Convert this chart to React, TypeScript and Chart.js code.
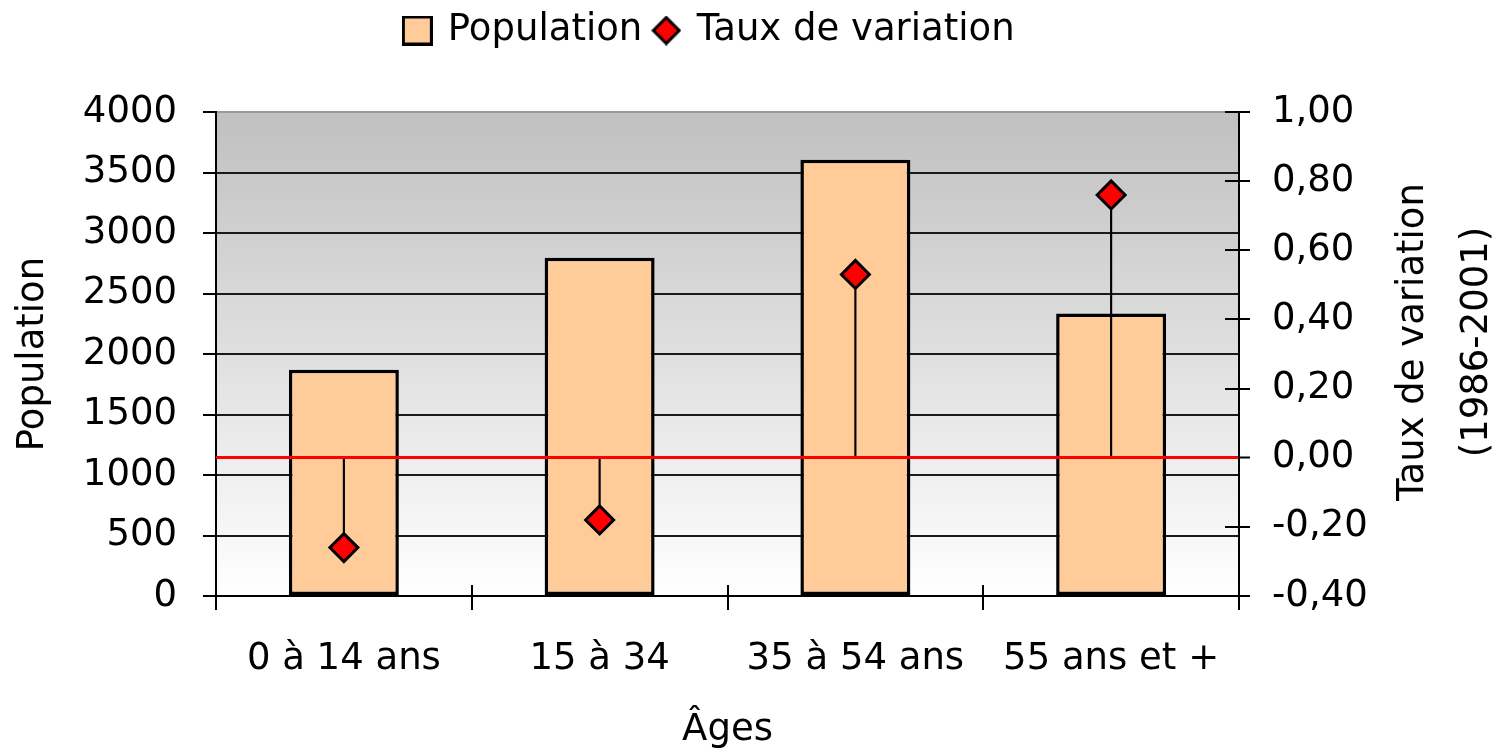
import React, { useEffect, useRef } from 'react';
import { Chart, registerables } from 'chart.js';

Chart.register(...registerables);

// ---- data ----
const categories = ['0 à 14 ans', '15 à 34', '35 à 54 ans', '55 ans et +'];
const population = [1870, 2795, 3605, 2335];
const tauxVariation = [-0.26, -0.18, 0.53, 0.76];
const populationAxis = { min: 0, max: 4000, step: 500 };
const tauxAxis = { min: -0.4, max: 1.0, step: 0.2 };
const legendLabels = ['Population', 'Taux de variation'];
const xTitle = 'Âges';
const leftTitle = 'Population';
const rightTitleLines = ['Taux de variation', '(1986-2001)'];

const FAMILY = 'DejaVu Sans';
const FS = 37;

function makeSquareIcon(): HTMLCanvasElement {
  const c = document.createElement('canvas');
  c.width = 31;
  c.height = 30;
  const x = c.getContext('2d')!;
  x.fillStyle = '#ffcc99';
  x.fillRect(0, 0, 31, 30);
  x.lineWidth = 3;
  x.strokeStyle = '#000';
  x.strokeRect(1.5, 1.5, 28, 27);
  return c;
}

function makeDiamondIcon(): HTMLCanvasElement {
  const c = document.createElement('canvas');
  c.width = 30;
  c.height = 30;
  const x = c.getContext('2d')!;
  x.beginPath();
  x.moveTo(15, 2);
  x.lineTo(28, 15);
  x.lineTo(15, 28);
  x.lineTo(2, 15);
  x.closePath();
  x.fillStyle = '#ff0000';
  x.fill();
  x.lineWidth = 3;
  x.strokeStyle = '#000';
  x.stroke();
  return c;
}

const bgPlugin = {
  id: 'plotBg',
  beforeDraw(chart: any) {
    const { ctx, chartArea: a } = chart;
    const g = ctx.createLinearGradient(0, a.top, 0, a.bottom);
    g.addColorStop(0, '#c0c0c0');
    g.addColorStop(1, '#ffffff');
    ctx.save();
    ctx.fillStyle = g;
    ctx.fillRect(a.left, a.top, a.right - a.left, a.bottom - a.top);
    ctx.restore();
  },
};

// inner halves of the "cross" tick marks (x axis category boundaries, right axis ticks)
const innerTicksPlugin = {
  id: 'innerTicks',
  afterDatasetsDraw(chart: any) {
    const { ctx, chartArea: a, scales } = chart;
    const xs = scales.x;
    const y1 = scales.y1;
    ctx.save();
    ctx.strokeStyle = '#000';
    ctx.lineWidth = 2;
    ctx.beginPath();
    const n = xs.ticks.length;
    for (let i = 1; i < n; i++) {
      const px = Math.round((xs.getPixelForTick(i - 1) + xs.getPixelForTick(i)) / 2);
      ctx.moveTo(px, a.bottom);
      ctx.lineTo(px, a.bottom - 11);
    }
    y1.ticks.forEach((t: any) => {
      const py = Math.round(y1.getPixelForValue(t.value));
      ctx.moveTo(a.right, py);
      ctx.lineTo(a.right - 14, py);
    });
    ctx.stroke();
    ctx.restore();
  },
};

const rightTitlePlugin = {
  id: 'rightTitle',
  afterDraw(chart: any) {
    const a = chart.chartArea;
    const ctx = chart.ctx;
    ctx.save();
    ctx.font = `${FS}px "${FAMILY}"`;
    ctx.fillStyle = '#000';
    ctx.textAlign = 'center';
    ctx.textBaseline = 'middle';
    const cy = (a.top + a.bottom) / 2 - 12;
    rightTitleLines.forEach((line, i) => {
      ctx.save();
      ctx.translate(chart.width - 91 + i * 64, cy);
      ctx.rotate(-Math.PI / 2);
      ctx.fillText(line, 0, 0);
      ctx.restore();
    });
    ctx.restore();
  },
};

const isZero = (v: number) => Math.abs(v) < 1e-9;

export default function App() {
  const ref = useRef<HTMLCanvasElement>(null);

  useEffect(() => {
    if (!ref.current) return;
    const sq = makeSquareIcon();
    const dia = makeDiamondIcon();
    const font = { family: FAMILY, size: FS };

    const chart = new Chart(ref.current, {
      type: 'bar',
      data: {
        labels: categories,
        datasets: [
          {
            type: 'bar',
            label: legendLabels[0],
            data: population,
            yAxisID: 'y',
            backgroundColor: '#ffcc99',
            borderColor: '#000',
            borderWidth: 3.5,
            borderSkipped: false,
            barPercentage: 0.43,
            categoryPercentage: 1,
            grouped: false,
            order: 3,
          } as any,
          {
            type: 'bar',
            label: 'drop',
            data: tauxVariation.map((v) => [0, v]),
            yAxisID: 'y1',
            backgroundColor: '#000',
            borderWidth: 0,
            barThickness: 1.5,
            grouped: false,
            order: 2,
          } as any,
          {
            type: 'line',
            label: legendLabels[1],
            data: tauxVariation,
            yAxisID: 'y1',
            showLine: false,
            pointStyle: 'rectRot',
            pointRadius: 14,
            pointBackgroundColor: '#ff0000',
            pointBorderColor: '#000',
            pointBorderWidth: 3,
            order: 1,
          } as any,
        ],
      },
      options: {
        responsive: false,
        animation: false,
        events: [],
        layout: { padding: { left: 0, top: 0, bottom: 0, right: 84 } },
        plugins: {
          tooltip: { enabled: false },
          legend: {
            display: true,
            position: 'top',
            weight: 3000,
            fullSize: true,
            labels: {
              usePointStyle: true,
              boxWidth: 24,
              boxHeight: 30,
              padding: 12,
              color: '#000',
              font,
              generateLabels: () => [
                { text: legendLabels[0], pointStyle: sq, fillStyle: '#ffcc99', strokeStyle: '#000', lineWidth: 0, hidden: false, datasetIndex: 0, fontColor: '#000' } as any,
                { text: legendLabels[1], pointStyle: dia, fillStyle: '#ff0000', strokeStyle: '#000', lineWidth: 0, hidden: false, datasetIndex: 2, fontColor: '#000' } as any,
              ],
            },
          } as any,
          subtitle: {
            display: true,
            text: ' ',
            position: 'top',
            font: { family: FAMILY, size: 10, lineHeight: 1.2 },
            padding: { top: 0, bottom: 41 },
          } as any,
        },
        scales: {
          x: {
            type: 'category',
            offset: true,
            grid: { display: true, offset: true, drawOnChartArea: false, drawTicks: true, tickLength: 14, color: '#000', lineWidth: 2 },
            border: { display: true, color: '#000', width: 2 },
            ticks: { color: '#000', font, padding: 27, maxRotation: 0, autoSkip: false },
            title: { display: true, text: xTitle, color: '#000', font, padding: { top: 0, bottom: 0 } },
            afterFit: (s: any) => { s.height = 157; },
          },
          y: {
            type: 'linear',
            position: 'left',
            min: populationAxis.min,
            max: populationAxis.max,
            ticks: { stepSize: populationAxis.step, color: '#000', font, padding: 26, callback: (v: any) => String(v) },
            grid: {
              color: (c: any) => (c.tick && c.tick.value === populationAxis.max ? '#9a9a9a' : '#1a1a1a'),
              lineWidth: 2,
              tickLength: 13,
              tickColor: '#000',
            },
            border: { display: true, color: '#000', width: 2 },
            title: { display: true, text: leftTitle, color: '#000', font, padding: { top: 11, bottom: 0 } },
            afterFit: (s: any) => { s.width = 216; },
          },
          y1: {
            type: 'linear',
            position: 'right',
            min: tauxAxis.min,
            max: tauxAxis.max,
            ticks: {
              stepSize: tauxAxis.step,
              color: '#000',
              font,
              padding: 22,
              callback: (v: any) => {
                const n = isZero(Number(v)) ? 0 : Number(v);
                return n.toFixed(2).replace('.', ',');
              },
            },
            grid: {
              z: 1,
              color: (c: any) => (c.tick && isZero(c.tick.value) ? '#ff0000' : 'rgba(0,0,0,0)'),
              lineWidth: (c: any) => (c.tick && isZero(c.tick.value) ? 3 : 2),
              tickColor: '#000',
              tickWidth: 2,
              tickLength: 11,
            },
            border: { display: true, color: '#000', width: 2, z: 1 },
            afterFit: (s: any) => { s.width = 181; },
          },
        },
      } as any,
      plugins: [bgPlugin, innerTicksPlugin, rightTitlePlugin],
    });
    return () => chart.destroy();
  }, []);

  return (
    <div style={{ position: 'fixed', left: 0, top: 0, width: 1504, height: 753, background: '#fff' }}>
      <canvas ref={ref} width={1504} height={753} style={{ display: 'block' }} />
    </div>
  );
}
